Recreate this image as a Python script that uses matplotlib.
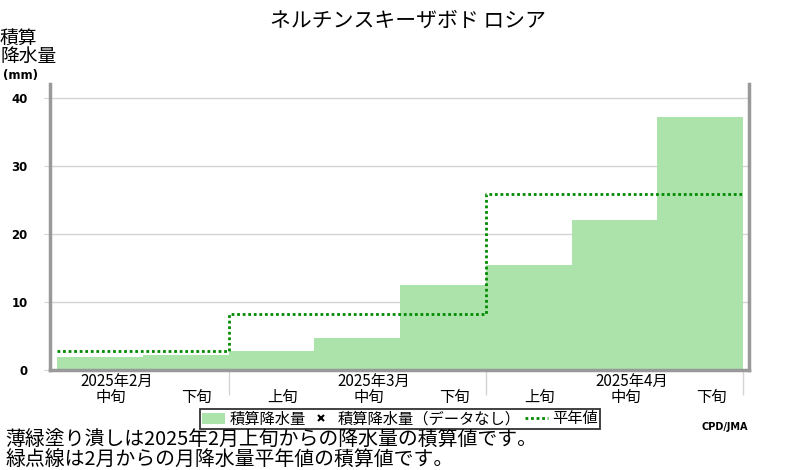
import matplotlib
matplotlib.use('Agg')
import numpy as np
from matplotlib import pyplot as plt
from matplotlib.patches import Patch
from matplotlib.lines import Line2D
from matplotlib.transforms import blended_transform_factory

plt.rcParams['font.family'] = ['Noto Sans CJK JP', 'DejaVu Sans']

title = 'ネルチンスキーザボド ロシア'
dekads = ['中旬', '下旬', '上旬', '中旬', '下旬', '上旬', '中旬', '下旬']
month_of = [0, 0, 1, 1, 1, 2, 2, 2]
months = ['2025年2月', '2025年3月', '2025年4月']
precip = [1.9, 2.2, 2.8, 4.7, 12.5, 15.4, 22.0, 37.2]
normal = [2.85, 8.2, 25.9]
yticks = [0, 10, 20, 30, 40]

bar_col = '#abe3aa'
norm_col = '#008a00'
frame_col = '#999999'

fig = plt.figure(figsize=(8, 4.7), dpi=100)
ax = fig.add_axes([50/800, 100/470, 699/800, 285.6/470])

n = len(precip)
x = np.arange(n)
ax.bar(x, precip, width=1.0, align='edge', color=bar_col, linewidth=0, zorder=2)

# normal line as step over dekads
norm_d = [normal[m] for m in month_of]
edges = np.arange(n + 1)
ax.step(edges, norm_d + [norm_d[-1]], where='post', color=norm_col,
        linestyle=(0, (1, 1)), linewidth=2, zorder=3)

ax.set_xlim(-7/85.75, n + 6/85.75)
ax.set_ylim(0, 42)
ax.set_yticks(yticks)
ax.set_yticklabels([str(v) for v in yticks], fontsize=8.5, fontweight='bold',
                   family='DejaVu Sans')
ax.yaxis.grid(True, color='#d4d4d4', linewidth=1)
ax.set_axisbelow(True)
ax.tick_params(axis='y', length=4, color='#d4d4d4', pad=12)

# month boundaries as long minor ticks
bounds = [i for i in range(1, n) if month_of[i] != month_of[i-1]] + [n]
ax.set_xticks([])
ax.set_xticks(bounds, minor=True)
ax.tick_params(axis='x', which='minor', length=18, color='#d4d4d4', width=1)

for s in ['left', 'bottom', 'right']:
    ax.spines[s].set_color(frame_col)
    ax.spines[s].set_linewidth(2.5)
ax.spines['top'].set_visible(False)

tr = blended_transform_factory(ax.transData, fig.transFigure)
for i, lab in enumerate(dekads):
    ax.text(i + 0.5 + 0.13, 1 - 397/470, lab, transform=tr, ha='center',
            va='center', fontsize=11, clip_on=False)
for m, lab in enumerate(months):
    idx = [i for i in range(n) if month_of[i] == m]
    start = idx[-1] - 2
    ax.text(start + 1.5 + 0.2, 1 - 381/470, lab, transform=tr, ha='center',
            va='center', fontsize=11, clip_on=False)

fig.text(0.51, 1 - 21/470, title, ha='center', va='center', fontsize=15)
fig.text(0.0, 1 - 47/470, '積算\n降水量', ha='left', va='center', fontsize=13.5,
         linespacing=0.82)
fig.text(0.004, 1 - 75/470, '(mm)', ha='left', va='center', fontsize=8.5,
         fontweight='bold', family='DejaVu Sans')

handles = [Patch(facecolor=bar_col, edgecolor='none'),
           Line2D([], [], marker='x', color='black', linestyle='none',
                  markersize=5, markeredgewidth=1.5),
           Line2D([], [], color=norm_col, linestyle=(0, (1, 1)), linewidth=2)]
labels = ['積算降水量', '積算降水量（データなし）', '平年値']
leg = fig.legend(handles, labels, loc='center', bbox_to_anchor=(0.5, 1 - 419/470),
                 ncol=3, fontsize=11, frameon=True, fancybox=False,
                 edgecolor='black', borderpad=0.1, handlelength=1.5,
                 handletextpad=0.3, columnspacing=0.3, borderaxespad=0)
leg.get_frame().set_linewidth(1.3)

fig.text(748/800, 1 - 427/470, 'CPD/JMA', ha='right', va='center', fontsize=7,
         fontweight='bold', family='DejaVu Sans')
fig.text(5/800, 1 - 440/470, '薄緑塗り潰しは2025年2月上旬からの降水量の積算値です。',
         ha='left', va='center', fontsize=14.3)
fig.text(5/800, 1 - 459/470, '緑点線は2月からの月降水量平年値の積算値です。',
         ha='left', va='center', fontsize=14.3)

fig.savefig('out.png', dpi=100)
